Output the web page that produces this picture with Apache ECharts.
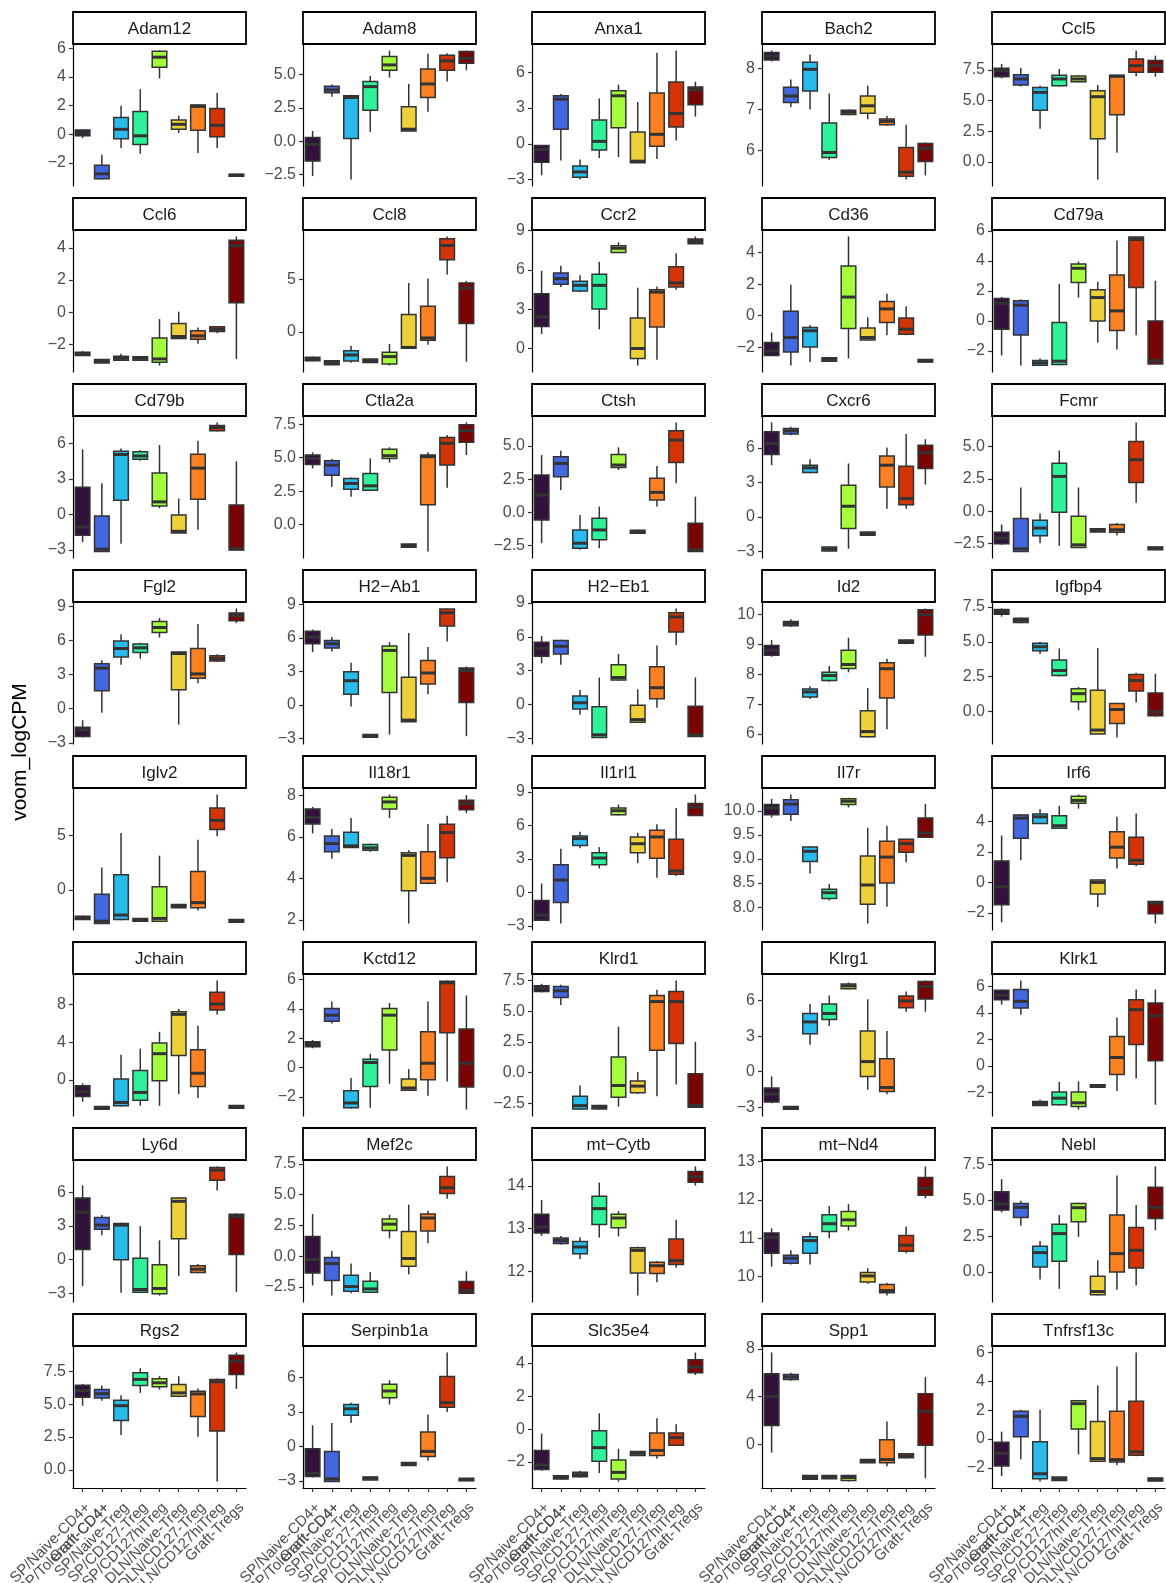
<!DOCTYPE html>
<html><head><meta charset="utf-8">
<script src="https://cdn.jsdelivr.net/npm/echarts@6/dist/echarts.min.js"></script>
<style>html,body{margin:0;padding:0;background:#fff}#c{width:1166px;height:1583px}</style>
</head><body><div id="c"></div>
<script>
// categories (x axis) — two labels are printed at the second position in the original
const categories = ["SP/Naive-CD4+","SP/Tolerant-CD4+","SP/Naive-Treg","SP/CD127-Treg","SP/CD127hiTreg","DLN/Naive-Treg","DLN/CD127-Treg","DLN/CD127hiTreg","Graft-Tregs"];
const overlapLabels = ["","Graft-CD4+","","","","","","",""];
const boxColors = ["#30123B","#4267DF","#29BBEC","#2EF29A","#A4FC3C","#EDD03A","#FB8122","#D33406","#7A0403"];

const genes = ["Adam12","Adam8","Anxa1","Bach2","Ccl5","Ccl6","Ccl8","Ccr2","Cd36","Cd79a",
"Cd79b","Ctla2a","Ctsh","Cxcr6","Fcmr","Fgl2","H2\u2212Ab1","H2\u2212Eb1","Id2","Igfbp4",
"Iglv2","Il18r1","Il1rl1","Il7r","Irf6","Jchain","Kctd12","Klrd1","Klrg1","Klrk1",
"Ly6d","Mef2c","mt\u2212Cytb","mt\u2212Nd4","Nebl","Rgs2","Serpinb1a","Slc35e4","Spp1","Tnfrsf13c"];

// y-axis tick labels per panel
const yTicks = [
[-2,0,2,4,6],[-2.5,0,2.5,5],[-3,0,3,6],[6,7,8],[0,2.5,5,7.5],
[-2,0,2,4],[0,5],[0,3,6,9],[-2,0,2,4],[-2,0,2,4,6],
[-3,0,3,6],[0,2.5,5,7.5],[-2.5,0,2.5,5],[-3,0,3,6],[-2.5,0,2.5,5],
[-3,0,3,6,9],[-3,0,3,6,9],[-3,0,3,6,9],[6,7,8,9,10],[0,2.5,5,7.5],
[0,5],[2,4,6,8],[-3,0,3,6,9],[8,8.5,9,9.5,10],[-2,0,2,4],
[0,4,8],[-2,0,2,4,6],[-2.5,0,2.5,5,7.5],[-3,0,3,6],[-2,0,2,4,6],
[-3,0,3,6],[-2.5,0,2.5,5,7.5],[12,13,14],[10,11,12,13],[0,2.5,5,7.5],
[0,2.5,5,7.5],[-3,0,3,6],[-2,0,2,4],[0,4,8],[-2,0,2,4,6]];

// box statistics per gene: [min, Q1, median, Q3, max] for each of the 9 groups
const Adam12 = [[-0.25,-0.1,0.1,0.3,0.35],[-3.15,-3.1,-2.75,-2.15,-1.43],[-0.95,-0.3,0.35,1.17,2.0],[-1.35,-0.7,-0.1,1.6,3.15],[3.9,4.68,5.38,5.8,5.85],[0.1,0.35,0.7,1.0,1.3],[-1.3,0.28,1.95,2.05,2.1],[-0.95,-0.16,0.63,1.8,2.88],[-2.95,-2.92,-2.85,-2.78,-2.75]];
const Adam8 = [[-2.6,-1.48,-0.23,0.28,0.77],[3.32,3.62,3.83,4.1,4.23],[-2.86,0.2,3.27,3.4,3.47],[0.7,2.32,4.08,4.46,4.87],[4.75,5.3,5.7,6.33,6.76],[0.77,0.77,0.9,2.58,4.28],[2.2,3.27,4.28,5.4,6.53],[4.46,5.3,6.0,6.43,6.58],[5.3,5.82,6.2,6.7,6.78]];
const Anxa1 = [[-2.64,-1.55,-0.48,-0.14,-0.1],[-1.4,1.21,3.74,4.02,4.16],[-3.0,-2.81,-2.36,-1.86,-1.32],[-1.2,-0.53,0.2,2.0,3.8],[-1.12,1.35,4.02,4.44,4.95],[-1.6,-1.6,-1.46,0.98,3.5],[-1.27,-0.2,0.79,4.25,7.62],[0.28,1.4,2.53,5.17,7.82],[2.28,3.26,4.53,4.75,5.2]];
const Bach2 = [[8.17,8.21,8.3,8.39,8.44],[7.06,7.17,7.33,7.54,7.73],[7.0,7.45,7.98,8.15,8.34],[5.77,5.83,5.95,6.67,7.39],[6.86,6.88,6.93,6.98,7.0],[6.76,6.91,7.09,7.33,7.58],[6.6,6.63,6.71,6.77,6.84],[5.29,5.37,5.47,6.07,6.63],[5.39,5.73,6.05,6.17,6.2]];
const Ccl5 = [[6.82,6.96,7.45,7.64,8.0],[6.16,6.27,6.77,7.12,7.67],[2.71,4.22,5.67,6.08,6.22],[6.14,6.22,6.77,7.07,7.59],[6.49,6.55,6.77,7.01,7.1],[-1.45,1.89,5.32,5.81,6.27],[0.74,3.84,6.99,7.07,7.1],[6.99,7.32,7.86,8.41,9.1],[6.96,7.32,7.86,8.27,8.68]];
const Ccl6 = [[-2.72,-2.68,-2.57,-2.47,-2.4],[-3.16,-3.14,-3.03,-2.93,-2.9],[-3.0,-2.97,-2.85,-2.72,-2.57],[-3.0,-2.97,-2.85,-2.76,-2.72],[-3.3,-3.1,-2.89,-1.6,-0.42],[-1.67,-1.63,-1.5,-0.69,0.04],[-1.95,-1.67,-1.46,-1.15,-0.94],[-1.3,-1.19,-1.05,-0.9,-0.88],[-2.89,0.59,4.12,4.46,4.7]];
const Ccl8 = [[-2.8,-2.74,-2.58,-2.42,-2.35],[-3.15,-3.13,-2.93,-2.74,-2.7],[-2.93,-2.77,-2.2,-1.8,-1.32],[-2.95,-2.9,-2.74,-2.58,-2.5],[-3.2,-3.06,-2.35,-1.94,-1.16],[-1.55,-1.55,-1.48,1.65,4.65],[-1.22,-0.8,-0.58,2.42,5.06],[5.45,6.84,8.2,8.84,9.06],[-2.84,0.8,4.16,4.65,4.84]];
const Ccr2 = [[1.1,1.68,2.42,4.18,5.93],[4.69,4.9,5.33,5.77,6.31],[4.3,4.38,4.82,5.13,5.59],[1.47,3.02,4.82,5.67,6.62],[7.27,7.32,7.65,7.84,8.1],[-1.3,-0.77,0.0,2.32,4.64],[-0.85,1.65,4.3,4.48,4.74],[4.48,4.69,5.0,6.24,7.27],[7.96,7.99,8.17,8.35,8.55]];
const Cd36 = [[-2.57,-2.53,-2.25,-1.71,-1.07],[-3.17,-2.31,-1.39,0.28,1.97],[-2.95,-1.99,-0.96,-0.75,-0.6],[-2.92,-2.89,-2.78,-2.68,-2.65],[-2.72,-0.81,1.18,3.15,5.03],[-1.56,-1.54,-1.39,-0.79,-0.1],[-1.24,-0.43,0.43,0.9,1.39],[-1.24,-1.18,-0.86,-0.15,0.6],[-2.97,-2.95,-2.87,-2.78,-2.76]];
const Cd79a = [[-2.3,-0.56,1.18,1.5,1.61],[-2.97,-0.94,1.05,1.34,1.45],[-2.97,-2.95,-2.79,-2.64,-2.5],[-2.95,-2.9,-2.68,-0.11,2.46],[1.56,2.57,3.51,3.8,3.96],[-1.45,0.0,1.56,2.08,2.61],[-1.9,-0.63,0.67,3.06,5.36],[-0.96,2.23,5.43,5.59,5.63],[-2.86,-2.86,-2.64,0.0,2.68]];
const Cd79b = [[-2.34,-1.77,-1.06,2.29,5.49],[-3.14,-3.14,-2.94,-0.14,2.63],[-2.49,1.2,5.06,5.34,5.57],[4.54,4.66,4.94,5.29,5.43],[0.51,0.71,1.06,3.49,5.86],[-1.57,-1.57,-1.43,-0.06,1.34],[-1.29,1.29,3.91,5.09,6.23],[7.0,7.06,7.34,7.51,7.77],[-3.0,-3.0,-2.91,0.8,4.49]];
const Ctla2a = [[4.2,4.5,4.95,5.2,5.4],[2.83,3.7,4.45,4.78,4.9],[2.08,2.65,3.08,3.45,3.53],[2.5,2.58,2.9,3.83,4.95],[4.63,4.95,5.15,5.63,5.78],[-1.7,-1.68,-1.55,-1.43,-1.4],[-2.0,1.5,5.08,5.2,5.4],[2.75,4.45,6.08,6.5,6.7],[5.2,6.15,7.03,7.45,7.63]];
const Ctsh = [[-2.33,-0.58,1.3,2.81,4.31],[1.68,2.68,3.68,4.19,4.64],[-2.83,-2.71,-2.33,-1.33,-0.2],[-2.71,-2.08,-1.33,-0.45,0.43],[3.18,3.38,3.56,4.36,4.89],[-1.6,-1.58,-1.45,-1.35,-1.3],[0.43,0.93,1.5,2.56,3.48],[2.18,3.76,5.44,6.14,6.77],[-2.96,-2.96,-2.83,-0.83,1.18]];
const Cxcr6 = [[4.49,5.42,6.38,7.39,8.2],[7.1,7.19,7.48,7.68,7.83],[3.77,3.86,4.26,4.49,5.01],[-3.0,-2.96,-2.78,-2.61,-2.55],[-2.75,-1.01,0.93,2.75,4.64],[-1.62,-1.59,-1.45,-1.3,-1.25],[0.72,2.61,4.49,5.3,6.03],[0.72,1.07,1.59,4.41,7.19],[2.81,4.2,5.57,6.23,6.75]];
const Fcmr = [[-2.61,-2.53,-2.09,-1.64,-1.04],[-3.13,-3.13,-2.92,-0.57,1.83],[-2.48,-1.91,-1.31,-0.7,-0.18],[-2.69,-0.08,2.69,3.71,4.7],[-2.82,-2.82,-2.61,-0.39,1.83],[-1.65,-1.62,-1.49,-1.36,-1.3],[-1.88,-1.64,-1.44,-1.04,-0.91],[0.65,2.22,3.99,5.4,6.87],[-3.03,-3.0,-2.87,-2.77,-2.74]];
const Fgl2 = [[-2.54,-2.45,-1.85,-1.64,-1.01],[-0.36,1.58,3.58,3.97,4.27],[3.88,4.57,5.31,5.97,6.57],[4.42,4.96,5.37,5.7,5.82],[6.27,6.72,7.16,7.7,8.0],[-1.4,1.67,4.87,5.01,5.07],[2.24,2.69,3.07,5.31,7.46],[4.12,4.21,4.42,4.66,4.81],[7.55,7.76,8.21,8.45,8.84]];
const H2_Ab1 = [[4.73,5.48,6.08,6.6,6.75],[4.79,5.09,5.48,5.78,6.08],[-0.15,0.96,2.17,2.98,3.77],[-2.92,-2.89,-2.77,-2.65,-2.62],[-2.65,1.11,4.88,5.27,5.63],[-1.51,-1.51,-1.36,2.47,6.45],[0.96,1.87,2.86,3.98,5.18],[5.69,7.08,8.25,8.58,8.64],[-2.8,0.21,3.07,3.31,3.43]];
const H2_Eb1 = [[3.64,4.27,4.99,5.52,6.06],[3.52,4.48,5.16,5.67,5.73],[-0.9,-0.39,0.15,0.75,1.28],[-2.93,-2.93,-2.69,-0.21,2.39],[2.09,2.18,2.39,3.52,4.48],[-1.64,-1.58,-1.34,-0.06,1.34],[-0.3,0.51,1.49,3.34,5.22],[5.28,6.42,7.76,8.12,8.51],[-2.84,-2.84,-2.69,-0.15,2.39]];
const Id2 = [[8.59,8.64,8.81,8.97,9.15],[9.59,9.63,9.71,9.77,9.85],[7.17,7.24,7.41,7.51,7.6],[7.75,7.79,7.96,8.07,8.28],[8.07,8.2,8.33,8.81,9.23],[5.88,5.91,6.08,6.78,7.54],[6.16,7.21,8.19,8.39,8.52],[9.01,9.04,9.1,9.15,9.18],[8.59,9.32,10.0,10.17,10.21]];
const Igfbp4 = [[6.81,6.98,7.17,7.33,7.4],[6.33,6.38,6.55,6.69,6.74],[4.12,4.36,4.64,4.9,5.0],[2.5,2.57,2.93,3.69,4.52],[0.07,0.67,1.26,1.62,1.74],[-1.64,-1.64,-1.36,1.5,4.55],[-1.9,-0.88,0.12,0.55,0.6],[0.62,1.45,2.21,2.64,2.76],[-0.4,-0.33,-0.05,1.31,2.69]];
const Iglv2 = [[-2.75,-2.72,-2.56,-2.41,-2.35],[-3.09,-3.09,-2.87,-0.4,2.07],[-2.78,-2.72,-2.31,1.39,5.22],[-2.9,-2.87,-2.75,-2.62,-2.6],[-2.87,-2.87,-2.62,0.28,3.15],[-1.67,-1.64,-1.48,-1.33,-1.3],[-1.88,-1.64,-1.17,1.7,4.6],[4.94,5.56,6.39,7.53,8.77],[-3.0,-2.96,-2.84,-2.72,-2.7]];
const Il18r1 = [[6.17,6.63,6.94,7.35,7.45],[4.95,5.28,5.68,6.04,6.38],[5.49,5.49,5.57,6.22,6.91],[5.28,5.36,5.47,5.63,5.68],[6.91,7.35,7.69,7.92,8.05],[1.82,3.4,5.11,5.24,5.36],[3.72,3.77,4.0,5.28,6.63],[3.81,5.0,6.21,6.61,7.02],[7.15,7.31,7.61,7.77,8.02]];
const Il1rl1 = [[-2.5,-2.5,-2.04,-0.73,0.79],[-2.8,-0.91,1.1,2.47,3.9],[3.96,4.21,4.82,5.06,5.43],[2.13,2.47,3.08,3.54,4.05],[6.89,6.95,7.32,7.56,7.87],[2.62,3.54,4.36,4.97,5.34],[1.31,3.05,4.97,5.58,6.1],[1.46,1.62,1.92,4.76,7.56],[6.86,6.89,7.65,7.96,8.78]];
const Il7r = [[9.86,9.92,10.06,10.13,10.25],[9.79,9.93,10.14,10.23,10.34],[8.7,8.95,9.16,9.25,9.27],[8.14,8.18,8.3,8.37,8.48],[10.07,10.13,10.2,10.25,10.27],[7.66,8.06,8.46,9.06,9.65],[8.01,8.5,9.04,9.37,9.69],[8.93,9.14,9.32,9.41,9.42],[9.45,9.45,9.54,9.85,10.14]];
const Irf6 = [[-2.62,-1.47,-0.28,1.41,3.07],[1.45,2.9,4.22,4.43,4.48],[3.83,3.87,4.3,4.48,4.8],[3.5,3.55,3.72,4.37,5.02],[4.84,5.19,5.38,5.66,5.77],[-1.62,-0.76,0.0,0.15,0.19],[0.91,1.6,2.31,3.33,4.3],[1.06,1.19,1.45,2.96,4.52],[-2.7,-2.05,-1.36,-1.25,-1.21]];
const Jchain = [[-2.31,-1.74,-1.25,-0.6,-0.36],[-3.13,-3.1,-2.95,-2.81,-2.78],[-2.81,-2.74,-2.38,0.11,2.67],[-2.74,-2.14,-1.32,1.0,3.31],[-2.74,-0.07,2.78,3.91,5.09],[-1.49,2.6,6.94,7.22,7.51],[-1.92,-0.68,0.71,3.2,5.73],[6.94,7.4,8.04,9.29,10.53],[-3.02,-2.99,-2.85,-2.7,-2.67]];
const Kctd12 = [[1.31,1.42,1.6,1.76,1.87],[3.0,3.16,3.57,4.02,4.51],[-2.82,-2.75,-2.42,-1.58,-0.72],[-2.75,-1.29,0.34,0.56,0.93],[-1.11,1.2,3.57,4.02,4.4],[-1.56,-1.56,-1.4,-0.79,-0.11],[-1.92,-0.84,0.29,2.44,4.51],[-0.95,2.37,5.78,5.89,5.94],[-2.87,-1.33,0.29,2.62,4.92]];
const Klrd1 = [[6.53,6.61,6.89,7.08,7.24],[5.52,6.12,6.67,7.02,7.16],[-3.0,-2.95,-2.68,-1.91,-1.04],[-3.0,-2.95,-2.81,-2.68,-2.62],[-2.76,-1.99,-1.04,1.28,3.74],[-1.72,-1.64,-1.09,-0.68,0.05],[-1.91,1.83,5.79,6.28,6.75],[-0.96,2.38,5.79,6.61,7.51],[-2.81,-2.81,-2.68,-0.08,2.51]];
const Klrg1 = [[-2.67,-2.56,-1.9,-1.39,-0.4],[-3.2,-3.18,-3.07,-2.95,-2.93],[2.27,3.21,4.2,4.91,5.71],[3.86,4.4,4.91,5.71,6.42],[6.96,6.99,7.24,7.41,7.53],[-1.53,-0.4,0.85,3.44,6.11],[-1.9,-1.68,-1.34,1.08,3.44],[5.06,5.4,5.97,6.39,6.76],[5.06,6.14,7.19,7.61,7.7]];
const Klrk1 = [[4.62,5.0,5.33,5.71,5.76],[3.86,4.37,4.87,5.76,6.45],[-3.0,-3.0,-2.84,-2.69,-2.56],[-3.0,-2.94,-2.44,-1.98,-1.22],[-3.3,-3.07,-2.79,-1.98,-1.17],[-1.65,-1.62,-1.52,-1.42,-1.4],[-1.9,-0.66,0.63,2.21,3.65],[-0.96,1.62,4.24,5.0,5.76],[-2.94,0.38,3.78,4.75,5.76]];
const Ly6d = [[-2.36,0.91,4.23,5.5,6.62],[2.18,2.72,3.08,3.75,3.99],[-2.96,0.0,3.08,3.23,3.29],[-2.9,-2.9,-2.66,0.12,2.99],[-3.2,-3.05,-2.57,-0.45,1.72],[-1.45,1.87,5.2,5.5,5.56],[-1.24,-1.15,-0.85,-0.54,-0.39],[6.16,7.07,7.98,8.22,8.31],[-2.87,0.45,3.84,4.05,4.14]];
const Mef2c = [[-2.38,-1.37,-0.27,1.59,3.42],[-3.2,-1.97,-0.6,-0.11,0.41],[-3.01,-2.85,-2.47,-1.56,-0.6],[-3.01,-2.93,-2.66,-2.03,-1.29],[1.45,2.08,2.6,3.01,3.37],[-1.48,-0.82,-0.19,2.0,4.19],[1.04,2.05,3.1,3.42,3.7],[4.66,5.1,5.56,6.47,7.29],[-3.07,-3.01,-2.79,-2.05,-1.23]];
const mt_Cytb = [[12.83,12.9,13.04,13.34,13.67],[12.62,12.65,12.72,12.78,12.83],[12.29,12.41,12.57,12.7,12.8],[12.79,13.1,13.47,13.76,14.08],[12.82,13.02,13.25,13.34,13.41],[11.43,11.96,12.49,12.55,12.58],[11.74,11.95,12.13,12.21,12.24],[12.08,12.16,12.25,12.76,13.21],[14.01,14.09,14.22,14.34,14.46]];
const mt_Nd4 = [[10.26,10.61,11.03,11.14,11.26],[10.32,10.35,10.48,10.56,10.69],[10.32,10.61,10.94,11.04,11.16],[11.0,11.18,11.38,11.61,11.84],[11.2,11.32,11.48,11.7,11.89],[9.82,9.86,10.02,10.11,10.22],[9.51,9.58,9.64,9.8,9.84],[10.61,10.66,10.82,11.07,11.31],[12.04,12.12,12.3,12.58,12.87]];
const Nebl = [[4.17,4.33,4.75,5.62,6.49],[3.23,3.82,4.52,4.8,4.99],[-0.52,0.35,1.36,1.8,2.18],[-1.17,0.75,2.69,3.35,3.98],[2.46,3.51,4.5,4.8,4.85],[-1.64,-1.59,-1.36,-0.3,0.82],[-1.24,0.0,1.29,3.98,6.74],[-0.94,0.28,1.52,3.11,4.68],[2.93,3.75,4.52,5.93,7.38]];
const Rgs2 = [[4.9,5.54,6.06,6.47,6.57],[5.28,5.49,5.82,6.13,6.44],[2.65,3.76,4.9,5.31,5.7],[5.88,6.44,6.91,7.42,7.76],[6.13,6.34,6.65,6.96,7.16],[5.54,5.62,5.88,6.52,7.16],[2.53,4.07,5.8,6.0,6.21],[-0.9,2.96,6.73,6.91,6.98],[6.19,7.29,8.32,8.76,8.97]];
const Serpinb1a = [[-2.7,-2.62,-2.33,-0.2,1.83],[-3.05,-3.05,-2.82,-0.44,2.03],[2.03,2.7,3.26,3.63,3.78],[-2.94,-2.91,-2.76,-2.65,-2.62],[3.63,4.22,4.8,5.38,5.73],[-1.69,-1.66,-1.51,-1.4,-1.37],[-1.25,-0.87,-0.44,1.25,2.76],[2.97,3.4,3.78,6.05,8.14],[-3.02,-2.99,-2.88,-2.76,-2.73]];
const Slc35e4 = [[-2.54,-2.47,-2.19,-1.3,-0.27],[-3.08,-3.05,-2.95,-2.85,-2.8],[-2.95,-2.91,-2.78,-2.64,-2.54],[-2.68,-1.96,-1.13,-0.1,0.97],[-3.2,-3.05,-2.64,-1.88,-1.2],[-1.65,-1.61,-1.48,-1.36,-1.34],[-1.81,-1.61,-1.3,-0.23,0.66],[-0.99,-0.99,-0.52,-0.23,0.29],[3.3,3.44,3.79,4.23,4.68]];
const Spp1 = [[-0.71,1.57,4.0,5.91,7.71],[5.34,5.43,5.66,5.86,6.0],[-2.97,-2.94,-2.8,-2.63,-2.6],[-2.94,-2.91,-2.77,-2.63,-2.6],[-3.14,-3.06,-2.8,-2.63,-2.57],[-1.6,-1.57,-1.43,-1.29,-1.26],[-1.86,-1.57,-1.29,0.37,1.91],[-1.2,-1.14,-1.0,-0.8,-0.77],[-2.86,-0.09,2.77,4.23,5.63]];
const Tnfrsf13c = [[-2.57,-1.87,-1.0,-0.23,0.51],[-1.4,0.16,1.57,1.92,2.03],[-2.94,-2.76,-2.41,-0.19,2.03],[-2.9,-2.87,-2.76,-2.64,-2.6],[-1.07,0.7,2.45,2.66,2.71],[-1.59,-1.54,-1.36,1.21,3.71],[-1.82,-1.59,-1.43,1.92,5.02],[-1.19,-1.12,-0.89,2.62,6.0],[-2.95,-2.92,-2.8,-2.71,-2.68]];

const geneStats = [Adam12,Adam8,Anxa1,Bach2,Ccl5,Ccl6,Ccl8,Ccr2,Cd36,Cd79a,
Cd79b,Ctla2a,Ctsh,Cxcr6,Fcmr,Fgl2,H2_Ab1,H2_Eb1,Id2,Igfbp4,
Iglv2,Il18r1,Il1rl1,Il7r,Irf6,Jchain,Kctd12,Klrd1,Klrg1,Klrk1,
Ly6d,Mef2c,mt_Cytb,mt_Nd4,Nebl,Rgs2,Serpinb1a,Slc35e4,Spp1,Tnfrsf13c];

// ---- layout ----
const NCOL = 5, NROW = 8;
const colLeft = [73, 303, 532, 762, 992];
const rowTop = [12, 198, 384, 570, 756, 942, 1128, 1314];
const panelW = 173, stripH = 32, plotH = 142;
const FONT = '"Liberation Sans", Arial, Helvetica, sans-serif';

function fmtTick(v, ticks) {
  const dec = ticks.some(t => Math.round(t) !== t) ? 1 : 0;
  return v.toFixed(dec).replace('-', '\u2212');
}

function renderBox(params, api) {
  const k = api.value(0);
  const lo = api.coord([k, api.value(1)]);
  const q1 = api.coord([k, api.value(2)]);
  const md = api.coord([k, api.value(3)]);
  const q3 = api.coord([k, api.value(4)]);
  const hi = api.coord([k, api.value(5)]);
  const band = api.size([1, 0])[0];
  const w = band * 0.76;
  const x = lo[0];
  const stroke = '#333333';
  return {
    type: 'group',
    children: [
      {type: 'line', shape: {x1: x, y1: hi[1], x2: x, y2: q3[1]}, style: {stroke: stroke, lineWidth: 1.5}},
      {type: 'line', shape: {x1: x, y1: q1[1], x2: x, y2: lo[1]}, style: {stroke: stroke, lineWidth: 1.5}},
      {type: 'rect', shape: {x: x - w / 2, y: q3[1], width: w, height: Math.max(q1[1] - q3[1], 0.5)},
        style: {fill: boxColors[params.dataIndex], stroke: stroke, lineWidth: 1.5}},
      {type: 'line', shape: {x1: x - w / 2, y1: md[1], x2: x + w / 2, y2: md[1]}, style: {stroke: stroke, lineWidth: 3}}
    ]
  };
}

const xLabelStyle = {show: true, interval: 0, rotate: 45, fontSize: 15, color: '#4D4D4D', margin: 12,
  align: 'right', verticalAlign: 'top', fontFamily: FONT};

const grid = [], xAxis = [], yAxis = [], series = [], graphic = [];
genes.forEach((g, i) => {
  const r = Math.floor(i / NCOL), c = i % NCOL;
  const left = colLeft[c], top = rowTop[r];
  const stats = geneStats[i];
  let lo = Infinity, hi = -Infinity;
  stats.forEach(s => { lo = Math.min(lo, s[0]); hi = Math.max(hi, s[4]); });
  const pad = (hi - lo) * 0.05;
  const ticks = yTicks[i];
  const bottom = (r === NROW - 1);

  grid.push({left: left, top: top + stripH, width: panelW, height: plotH,
    containLabel: false, outerBoundsMode: 'none'});
  xAxis.push({
    type: 'category', gridIndex: i, data: categories, boundaryGap: true, position: 'bottom',
    axisLine: {show: bottom, onZero: false, lineStyle: {color: '#000', width: 1.2}},
    axisTick: {show: bottom, alignWithLabel: true, length: 4, lineStyle: {color: '#333', width: 1.2}},
    axisLabel: Object.assign({}, xLabelStyle, {show: bottom}),
    splitLine: {show: false}
  });
  const ti = yAxis.length;
  yAxis.push({
    type: 'value', gridIndex: i, min: lo - pad, max: hi + pad, scale: true,
    axisLine: {show: true, onZero: false, lineStyle: {color: '#000', width: 1.2}},
    axisTick: {show: true, length: 4, customValues: ticks, lineStyle: {color: '#333', width: 1.2}},
    axisLabel: {show: true, customValues: ticks, fontSize: 16, color: '#4D4D4D', margin: 7, fontFamily: FONT,
      formatter: (v) => fmtTick(v, ticks)},
    splitLine: {show: false}
  });
  series.push({
    type: 'custom', xAxisIndex: i, yAxisIndex: ti,
    renderItem: renderBox,
    encode: {x: 0, y: [1, 2, 3, 4, 5]},
    data: stats.map((s, k) => [k, s[0], s[1], s[2], s[3], s[4]]),
    clip: false, silent: true
  });
  // strip
  graphic.push({type: 'rect', shape: {x: left, y: top, width: panelW, height: stripH},
    style: {fill: '#fff', stroke: '#000', lineWidth: 1.8}, z: 10});
  graphic.push({type: 'text', x: left + panelW / 2, y: top + stripH / 2 + 1,
    style: {text: g, fill: '#1A1A1A', font: '17px ' + FONT, align: 'center', verticalAlign: 'middle'}, z: 11});
});

// second layer of labels on the bottom row (overlapping label at position 2)
for (let c = 0; c < NCOL; c++) {
  const gi = (NROW - 1) * NCOL + c;
  xAxis.push({
    type: 'category', gridIndex: gi, data: categories, boundaryGap: true, position: 'bottom',
    axisLine: {show: false, onZero: false}, axisTick: {show: false}, splitLine: {show: false},
    axisLabel: Object.assign({}, xLabelStyle, {formatter: (v, idx) => overlapLabels[idx] || ''})
  });
}

graphic.push({type: 'text', x: 20, y: 752, rotation: Math.PI / 2,
  style: {text: 'voom_logCPM', fill: '#000', font: '21px ' + FONT, align: 'center', verticalAlign: 'middle'}});

const chart = echarts.init(document.getElementById('c'), null, {renderer: 'canvas'});
chart.setOption({
  animation: false,
  backgroundColor: '#fff',
  grid: grid, xAxis: xAxis, yAxis: yAxis, series: series, graphic: graphic
});
</script></body></html>
